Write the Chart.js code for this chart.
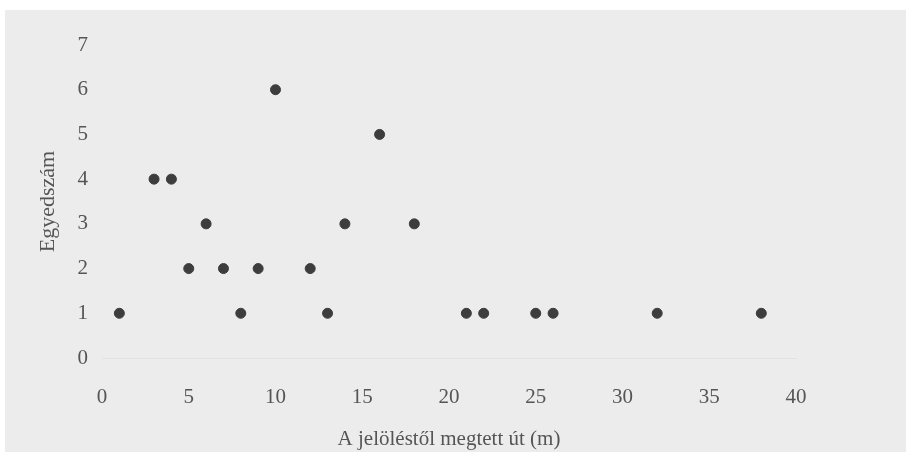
<!DOCTYPE html>
<html>
<head>
<meta charset="utf-8">
<script src="https://cdn.jsdelivr.net/npm/chart.js@4/dist/chart.umd.min.js"></script>
<style>
  html, body { margin: 0; padding: 0; background: #ffffff; }
  #wrap { position: relative; width: 906px; height: 452px; }
  canvas { display: block; }
</style>
</head>
<body>
<div id="wrap"><canvas id="chart" width="906" height="452"></canvas></div>
<script>
// távolság (m) és egyedszám
const distance = [1, 3, 4, 5, 6, 7, 8, 9, 10, 12, 13, 14, 16, 18, 21, 22, 25, 26, 32, 38];
const count    = [1, 4, 4, 2, 3, 2, 1, 2, 6, 2, 1, 3, 5, 3, 1, 1, 1, 1, 1, 1];

const xTitle = "A jelöléstől megtett út (m)";
const yTitle = "Egyedszám";

const points = distance.map((d, i) => ({ x: d, y: count[i] }));

const serif = "'Liberation Serif', 'DejaVu Serif', serif";
const textColor = "#555555";

// szürke háttér a fehér szegély mögött
const bgPlugin = {
    id: "bg",
    beforeDraw(chart) {
        const c = chart.ctx;
        c.save();
        c.fillStyle = "#ececec";
        c.fillRect(5, 10, chart.width - 5, chart.height - 10);
        c.restore();
    }
};

new Chart(document.getElementById("chart").getContext("2d"), {
    type: "scatter",
    data: {
        datasets: [{
            data: points,
            backgroundColor: "#3d3d3d",
            borderColor: "#3d3d3d",
            pointRadius: 5,
            pointHoverRadius: 5
        }]
    },
    options: {
        responsive: false,
        animation: false,
        layout: { padding: { left: 0, right: 110, top: 45, bottom: 0 } },
        plugins: {
            legend: { display: false },
            tooltip: { enabled: false }
        },
        scales: {
            x: {
                type: "linear",
                min: 0,
                max: 40,
                ticks: {
                    stepSize: 5,
                    color: textColor,
                    font: { family: serif, size: 21 },
                    padding: 27
                },
                grid: { display: false, drawTicks: false },
                border: { display: true, color: "#e2e2e2", dash: [10, 8] },
                title: {
                    display: true,
                    text: xTitle,
                    color: textColor,
                    font: { family: serif, size: 21 },
                    padding: { top: 0, bottom: 0 }
                },
                afterFit(scale) { scale.height = 94; }
            },
            y: {
                min: 0,
                max: 7,
                ticks: {
                    stepSize: 1,
                    color: textColor,
                    font: { family: serif, size: 21 },
                    padding: 14
                },
                grid: { display: false, drawTicks: false },
                border: { display: false },
                title: {
                    display: true,
                    text: yTitle,
                    color: textColor,
                    font: { family: serif, size: 22 },
                    padding: { top: 35, bottom: 0 }
                },
                afterFit(scale) { scale.width = 102; }
            }
        }
    },
    plugins: [bgPlugin]
});
</script>
</body>
</html>
